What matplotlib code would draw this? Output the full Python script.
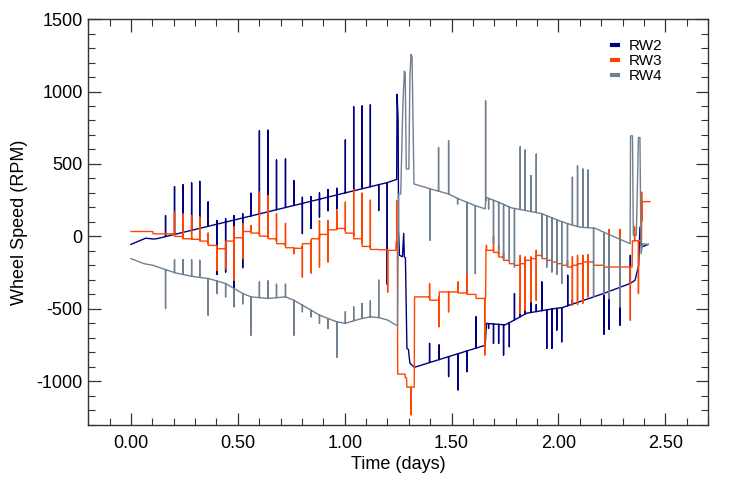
import numpy as np
import matplotlib
matplotlib.use("Agg")
import matplotlib.pyplot as plt
from matplotlib.ticker import MultipleLocator, FormatStrFormatter

plt.rcParams['font.family'] = ['Liberation Sans', 'DejaVu Sans']
plt.rcParams['axes.unicode_minus'] = False

# ---------------- RW2 (navy): baseline knots + spikes ----------------
rw2_knot_t = [0.000, 0.069, 0.105, 0.123, 0.600, 1.200, 1.240, 1.243, 1.245, 1.250,
              1.252, 1.256, 1.270, 1.276, 1.279, 1.284, 1.291, 1.298, 1.305, 1.326,
              1.650, 1.657, 1.663, 1.750, 1.790, 1.850, 1.950, 2.020, 2.210, 2.335,
              2.358, 2.375, 2.381, 2.388, 2.420]
rw2_knot_v = [-55, -12, -18, -15, 155, 372, 392, 392, 981, 797,
              41, -130, -140, 21, -140, -150, -772, -780, -875, -903,
              -754, -754, -600, -610, -580, -530, -505, -490, -394, -325,
              -302, -200, 64, -73, -55]
rw2_spike_t = [0.162, 0.204, 0.243, 0.284, 0.322, 0.361, 0.403, 0.403, 0.443, 0.443,
               0.483, 0.483, 0.523, 0.523, 0.562, 0.601, 0.642, 0.681, 0.723, 0.762,
               0.802, 0.802, 0.843, 0.843, 0.882, 0.882, 0.922, 0.922, 0.963, 0.963,
               1.003, 1.042, 1.081, 1.120, 1.159, 1.199,
               1.397, 1.442, 1.486, 1.530, 1.572, 1.614,
               1.673, 1.696, 1.720, 1.743, 1.770, 1.794, 1.821, 1.844, 1.871, 1.896,
               1.922, 1.945, 1.969, 1.992, 2.015, 2.043, 2.065, 2.213, 2.237, 2.288, 2.336]
rw2_spike_v = [144, 344, 357, 371, 380, 238, 110, -261, 122, -245,
               144, -353, 156, -215, 298, 729, 733, 527, 534, 385,
               270, 20, 275, 55, 300, 133, 323, 178, 332, 190,
               665, 894, 900, 907, 179, -330,
               -738, -749, -967, -1059, -933, -555,
               -635, -738, -738, -818, -761, -394, -420, -371, -417, -470,
               -314, -772, -772, -646, -727, -268, -440, -674, -640, -612, -131]

# ---------------- RW3 (orange-red): step levels + spikes ----------------
rw3_step_t = [0.103, 0.204, 0.243, 0.284, 0.322, 0.361, 0.403, 0.443, 0.483, 0.523,
              0.562, 0.601, 0.642, 0.681, 0.723, 0.762, 0.802, 0.843, 0.882, 0.922,
              0.963, 1.003, 1.042, 1.081, 1.120, 1.159, 1.201, 1.240, 1.247, 1.283,
              1.290, 1.326, 1.397, 1.442, 1.530, 1.572, 1.614, 1.660, 1.696, 1.720,
              1.743, 1.770, 1.794, 1.821, 1.844, 1.871, 1.896, 1.922, 1.945, 1.969,
              1.992, 2.015, 2.043, 2.065, 2.089, 2.114, 2.164, 2.213, 2.345, 2.389]
rw3_level = [34, 18, 0, -16, -20, -32, -62, -85, -32, -9, 34,
             23, 2, -16, -50, -78, -82, -50, -16, 14, 46,
             55, 23, -16, -69, -90, -92, -96, -39, -950, -975,
             -1040, -417, -440, -383, -390, -400, -428, -96, -110, -142,
             -165, -188, -199, -188, -165, -153, -131, -153, -165, -176,
             -188, -199, -211, -199, -188, -176, -199, -211, -30, 240]
rw3_end_t = 2.428
rw3_spike_t = [0.204, 0.243, 0.284, 0.322, 0.361, 0.403, 0.443, 0.483, 0.483, 0.523,
               0.523, 0.562, 0.601, 0.642, 0.681, 0.723, 0.762, 0.802, 0.843, 0.882,
               0.882, 0.922, 0.922, 0.963, 1.003, 1.042, 1.081, 1.120, 1.201, 1.243,
               1.311, 1.397, 1.442, 1.486, 1.530, 1.572, 1.655, 1.663, 1.696, 1.720,
               1.743, 1.821, 1.821, 1.844, 1.844, 1.871, 1.871, 1.896, 1.896, 2.042,
               2.065, 2.065, 2.089, 2.089, 2.114, 2.114, 2.137, 2.137, 2.237, 2.288,
               2.336, 2.356, 2.374, 2.389]
rw3_spike_v = [167, 156, 144, 133, 23, -234, -222, 67, -302, 89,
               -153, 75, 305, 282, 156, 90, -119, -280, -252, 110,
               -211, 110, -176, 177, 236, 321, 298, 250, -383, 248,
               -1231, -325, -623, -520, -314, -234, -818, -62, 0, -62,
               -110, -131, -532, -142, -509, -142, -452, -96, -440, -165,
               -140, -474, -131, -470, -131, -460, -125, -417, 48, 48,
               -577, 64, -394, 305]

# ---------------- RW4 (slate gray): baseline knots + spikes ----------------
rw4_knot_t = [0.000, 0.061, 0.103, 0.162, 0.209, 0.284, 0.364, 0.443, 0.483, 0.523,
              0.562, 0.642, 0.723, 0.762, 0.802, 0.843, 0.882, 0.922, 0.963, 1.003,
              1.042, 1.081, 1.120, 1.159, 1.201, 1.240, 1.247, 1.252, 1.262, 1.272,
              1.279, 1.283, 1.288, 1.300, 1.305, 1.310, 1.315, 1.324, 1.400, 1.486,
              1.533, 1.610, 1.657, 1.660, 1.720, 1.780, 1.860, 1.920, 2.000, 2.050,
              2.100, 2.170, 2.210, 2.257, 2.335, 2.337, 2.346, 2.350, 2.364, 2.374,
              2.381, 2.386, 2.394, 2.420]
rw4_knot_v = [-153, -188, -199, -229, -252, -275, -291, -325, -360, -394,
              -417, -428, -417, -440, -474, -509, -543, -566, -589, -600,
              -582, -566, -555, -560, -577, -612, -612, 293, 293, 900,
              1141, 1130, 465, 465, 1100, 1256, 1240, 362, 328, 293,
              259, 213, 190, 270, 236, 197, 175, 158, 110, 85,
              64, 57, 30, 0, -50, 694, 694, 7, 7, 683,
              683, -119, -50, -55]
rw4_spike_t = [0.162, 0.204, 0.243, 0.284, 0.322, 0.361, 0.403, 0.443, 0.483, 0.523,
               0.562, 0.601, 0.642, 0.681, 0.723, 0.762, 0.802, 0.843, 0.882, 0.922,
               0.963, 1.003, 1.042, 1.081, 1.120, 1.159,
               1.400, 1.439, 1.486, 1.528, 1.572, 1.611, 1.659, 1.673, 1.696, 1.720,
               1.743, 1.770, 1.794, 1.821, 1.844, 1.871, 1.896, 1.922, 1.945, 1.969,
               1.992, 2.015, 2.042, 2.065, 2.089, 2.114, 2.137, 2.164, 2.213, 2.237, 2.288]
rw4_spike_v = [-497, -160, -160, -160, -165, -543, -394, -417, -486, -465,
               -681, -314, -307, -330, -330, -681, -520, -555, -600, -635,
               -834, -520, -486, -463, -445, -302,
               -27, 614, 660, 224, -257, -257, 935, 190, -50, -96,
               -165, -170, -211, 619, 596, 419, 568, -142, -211, -245,
               -260, -325, -211, 408, 488, 465, 458, -417, -400, -430, -486]


def build_series(kt, kv, st, sv):
    pts = [(t, 0, v) for t, v in zip(kt, kv)]
    for t, p in zip(st, sv):
        b = float(np.interp(t, kt, kv))
        pts += [(t, 1, b), (t, 2, p), (t, 3, b)]
    pts.sort(key=lambda a: (a[0], a[1]))
    return np.array([a[0] for a in pts]), np.array([a[2] for a in pts])


def step_knots(step_t, levels, t_end, eps=0.0008):
    kt, kv = [0.0], [levels[0]]
    for i, t in enumerate(step_t):
        kt += [t - eps, t + eps]
        kv += [levels[i], levels[i + 1]]
    kt.append(t_end)
    kv.append(levels[-1])
    return kt, kv


x2, y2 = build_series(rw2_knot_t, rw2_knot_v, rw2_spike_t, rw2_spike_v)
k3t, k3v = step_knots(rw3_step_t, rw3_level, rw3_end_t)
x3, y3 = build_series(k3t, k3v, rw3_spike_t, rw3_spike_v)
x4, y4 = build_series(rw4_knot_t, rw4_knot_v, rw4_spike_t, rw4_spike_v)

fig = plt.figure(figsize=(7.47, 5.01), dpi=100)
ax = fig.add_axes([0.118, 0.152, 0.830, 0.810])

ax.plot(x2, y2, color='#000080', lw=1.0, label='RW2')
ax.plot(x3, y3, color='#FF4500', lw=1.0, label='RW3')
ax.plot(x4, y4, color='#708090', lw=1.0, label='RW4')

ax.set_xlim(-0.2, 2.7)
ax.set_ylim(-1300, 1500)
ax.xaxis.set_major_locator(MultipleLocator(0.5))
ax.xaxis.set_minor_locator(MultipleLocator(0.1))
ax.yaxis.set_major_locator(MultipleLocator(500))
ax.yaxis.set_minor_locator(MultipleLocator(100))
ax.xaxis.set_major_formatter(FormatStrFormatter('%.2f'))
ax.yaxis.set_major_formatter(FormatStrFormatter('%d'))

ax.tick_params(which='both', direction='in', top=True, right=True, colors='#333333',
               labelcolor='black', labelsize=13)
ax.tick_params(which='major', length=9, width=0.9)
ax.tick_params(which='minor', length=5, width=0.8)
ax.tick_params(axis='x', which='major', pad=7)
ax.tick_params(axis='y', which='major', pad=4)
for s in ax.spines.values():
    s.set_color('#333333')
    s.set_linewidth(1.0)

ax.set_xlabel('Time (days)', fontsize=13, labelpad=3)
ax.set_ylabel('Wheel Speed (RPM)', fontsize=13, labelpad=6)

leg = ax.legend(loc='upper left', bbox_to_anchor=(0.835, 0.965), frameon=False,
                fontsize=11, handlelength=0.4, handletextpad=0.7, labelspacing=0.05,
                borderaxespad=0)
for h in leg.get_lines():
    h.set_linewidth(3)

fig.savefig('out.png', dpi=100)
